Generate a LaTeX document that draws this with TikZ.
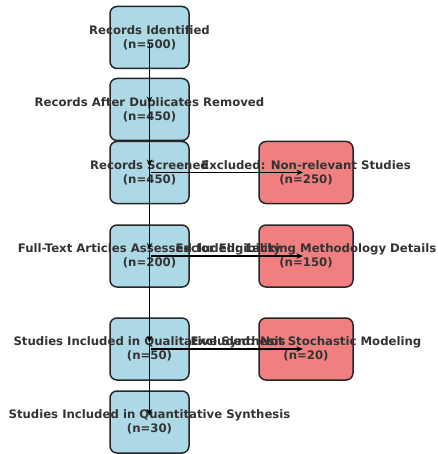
\documentclass[tikz,border=0pt]{standalone}
\usepackage{fontspec}
\setmainfont{DejaVu Sans}
\usetikzlibrary{arrows.meta}
\definecolor{boxblue}{HTML}{ADD8E6}
\definecolor{boxred}{HTML}{F08080}
\definecolor{txt}{HTML}{333333}
\definecolor{edge}{HTML}{262626}
\tikzset{
  bluebox/.style={draw=edge, line width=1.5pt, fill=boxblue, rounded corners=7pt, minimum width=79pt, minimum height=62pt, inner sep=0pt},
  redbox/.style={draw=edge, line width=1.5pt, fill=boxred, rounded corners=7pt, minimum width=94pt, minimum height=62pt, inner sep=0pt},
  lbl/.style={text=txt, align=center, inner sep=0pt, font=\bfseries\fontsize{11.7}{14}\selectfont},
  flow/.style={line width=1.8pt, -{Stealth[length=6.5pt,width=5.5pt]}}
}
\begin{document}
\begin{tikzpicture}[x=1pt,y=-1pt]
\useasboundingbox (0,0) rectangle (437,454);
% boxes
\node[bluebox] (b1) at (149.5,37.5) {};
\node[bluebox] (b2) at (149.5,109.5) {};
\node[bluebox] (b3) at (149.5,172.5) {};
\node[bluebox] (b4) at (149.5,256) {};
\node[bluebox] (b5) at (149.5,349) {};
\node[bluebox] (b6) at (149.5,422) {};
\node[redbox] (r1) at (306,172.5) {};
\node[redbox] (r2) at (306,256) {};
\node[redbox] (r3) at (306,349) {};
% texts
\node[lbl] (t1) at (b1.center) {Records Identified\\(n=500)};
\node[lbl] (t2) at (b2.center) {Records After Duplicates Removed\\(n=450)};
\node[lbl] (t3) at (b3.center) {Records Screened\\(n=450)};
\node[lbl] (t4) at (b4.center) {Full-Text Articles Assessed for Eligibility\\(n=200)};
\node[lbl] (t5) at (b5.center) {Studies Included in Qualitative Synthesis\\(n=50)};
\node[lbl] (t6) at (b6.center) {Studies Included in Quantitative Synthesis\\(n=30)};
\node[lbl] (u1) at (r1.center) {Excluded: Non-relevant Studies\\(n=250)};
\node[lbl] (u2) at (r2.center) {Excluded: Lacking Methodology Details\\(n=150)};
\node[lbl] (u3) at (r3.center) {Excluded: Not Stochastic Modeling\\(n=20)};
% connectors
\draw[flow] ([yshift=-6pt]b1.center) -- ([yshift=6.5pt]b2.center);
\draw[flow] ([yshift=6.5pt]b2.center) -- ([yshift=6.5pt]b3.center);
\draw[flow] ([yshift=6.5pt]b3.center) -- ([yshift=6.5pt]b4.center);
\draw[flow] ([yshift=6.5pt]b4.center) -- ([yshift=6.5pt]b5.center);
\draw[flow] ([yshift=6.5pt]b5.center) -- ([yshift=6.5pt]b6.center);
\draw[flow] ([xshift=1pt]b3.center) -- ([xshift=-3pt]r1.center);
\draw[flow] ([xshift=1pt]b4.center) -- ([xshift=-3pt]r2.center);
\draw[flow] ([xshift=1pt]b5.center) -- ([xshift=-3pt]r3.center);
\end{tikzpicture}
\end{document}
